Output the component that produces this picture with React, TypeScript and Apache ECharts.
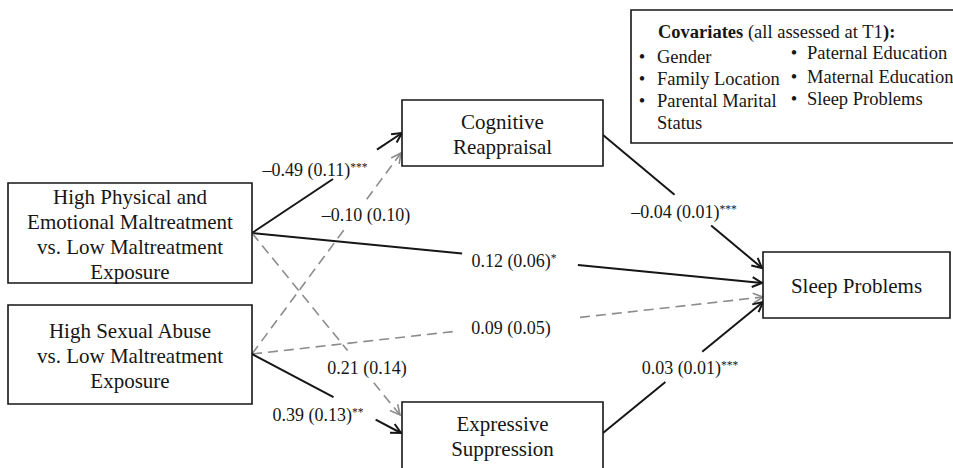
import React, { useEffect, useRef } from "react";
import * as echarts from "echarts";

// ---- Data ----
const nodeLabels = [
  "High Physical and\nEmotional Maltreatment\nvs. Low Maltreatment\nExposure",
  "High Sexual Abuse\nvs. Low Maltreatment\nExposure",
  "Cognitive\nReappraisal",
  "Expressive\nSuppression",
  "Sleep Problems",
];
// paths: HPE→CR, HPE→SP, HSA→CR, HPE→ES, HSA→SP, HSA→ES, CR→SP, ES→SP
const pathFrom = [0, 0, 1, 0, 1, 1, 2, 3];
const pathTo = [2, 4, 2, 3, 4, 3, 4, 4];
const pathEstimates = [-0.49, 0.12, -0.1, 0.21, 0.09, 0.39, -0.04, 0.03];
const pathSE = [0.11, 0.06, 0.1, 0.14, 0.05, 0.13, 0.01, 0.01];
const pathStars = ["***", "*", "", "", "", "**", "***", "***"];
const covariatesLeft = ["Gender", "Family Location", "Parental Marital\nStatus"];
const covariatesRight = ["Paternal Education", "Maternal Education", "Sleep Problems"];

// ---- Layout (positions only) ----
const nodeBoxes = [
  [8, 183, 252, 283],
  [8, 305, 252, 404],
  [402, 100, 603, 166],
  [402, 402, 603, 469],
  [763, 252, 950, 318],
];
const edgeStart = [
  [252, 233], [252, 233], [252, 354], [252, 233], [252, 354], [252, 354], [603, 135], [603, 433],
];
const edgeEnd = [
  [402, 133], [762, 283], [401, 153], [400, 415], [763, 297], [401, 433], [762, 268], [763, 302],
];
const edgeGap = [
  [0.54, 0.833], [0.412, 0.639], [0.64, 0.77], [0.646, 0.823], [0.401, 0.642], [0.547, 0.83], [0.45, 0.68], [0.39, 0.62],
];
const labelPos = [
  [315, 170], [514, 261], [366, 215], [367, 368], [511, 328], [318, 415], [684, 212], [690, 368],
];
const covBox = [631, 10, 965, 143];
const covTitlePos = [658, 32];
const covLeftPos = [[642, 657, 57], [642, 657, 79], [642, 657, 101]];
const covRightPos = [[794, 807, 53], [794, 807, 77], [794, 807, 99]];

const FONT = "'Liberation Serif', 'Times New Roman', serif";
const INK = "#161616";
const GREY = "#8c8c8c";
const COV_FS = 18.5;

function fmt(v: number) {
  const s = Math.abs(v).toFixed(2);
  return v < 0 ? "\u2013" + s : s;
}

export default function App() {
  const ref = useRef<HTMLDivElement>(null);
  useEffect(() => {
    document.body.style.margin = "0";
    const chart = echarts.init(ref.current!, null, { renderer: "svg" });

    const boxSeries = {
      type: "custom",
      clip: false,
      z: 3,
      data: nodeLabels.map((_, i) => [i]),
      renderItem: (params: any, api: any) => {
        const i = params.dataIndex;
        const b = nodeBoxes[i];
        const p0 = api.coord([b[0], b[1]]);
        const p1 = api.coord([b[2], b[3]]);
        return {
          type: "group",
          children: [
            {
              type: "rect",
              shape: { x: p0[0], y: p0[1], width: p1[0] - p0[0], height: p1[1] - p0[1] },
              style: { fill: "#fff", stroke: INK, lineWidth: 1.6 },
            },
            {
              type: "text",
              style: {
                text: nodeLabels[i],
                x: (p0[0] + p1[0]) / 2,
                y: (p0[1] + p1[1]) / 2 + 1,
                align: "center",
                verticalAlign: "middle",
                fontFamily: FONT,
                fontSize: 21,
                lineHeight: 25,
                fill: INK,
              },
            },
          ],
        };
      },
    };

    const edgeSeries = {
      type: "custom",
      clip: false,
      z: 2,
      data: pathFrom.map((_, i) => [i]),
      renderItem: (params: any, api: any) => {
        const i = params.dataIndex;
        const a = api.coord(edgeStart[i]);
        const b = api.coord(edgeEnd[i]);
        const sig = pathStars[i] !== "";
        const color = sig ? INK : GREY;
        const lw = sig ? 2 : 1.6;
        const g = edgeGap[i];
        const pt = (t: number) => [a[0] + (b[0] - a[0]) * t, a[1] + (b[1] - a[1]) * t];
        const m0 = pt(g[0]);
        const m1 = pt(g[1]);
        const ang = Math.atan2(b[1] - a[1], b[0] - a[0]);
        const L = 11;
        const da = 0.47;
        const h1 = [b[0] - L * Math.cos(ang - da), b[1] - L * Math.sin(ang - da)];
        const h2 = [b[0] - L * Math.cos(ang + da), b[1] - L * Math.sin(ang + da)];
        const ls: any = { stroke: color, lineWidth: lw, fill: "none" };
        if (!sig) ls.lineDash = [10, 6];
        return {
          type: "group",
          children: [
            { type: "line", shape: { x1: a[0], y1: a[1], x2: m0[0], y2: m0[1] }, style: ls },
            { type: "line", shape: { x1: m1[0], y1: m1[1], x2: b[0], y2: b[1] }, style: ls },
            {
              type: "polyline",
              shape: { points: [h1, b, h2] },
              style: { stroke: color, lineWidth: lw, fill: "none" },
            },
          ],
        };
      },
    };

    const labelSeries = {
      type: "custom",
      clip: false,
      z: 4,
      data: pathFrom.map((_, i) => [i]),
      renderItem: (params: any, api: any) => {
        const i = params.dataIndex;
        const p = api.coord(labelPos[i]);
        const txt = `${fmt(pathEstimates[i])} (${pathSE[i].toFixed(2)})` + (pathStars[i] ? `{s|${pathStars[i]}}` : "");
        return {
          type: "text",
          style: {
            text: txt,
            x: p[0],
            y: p[1],
            align: "center",
            verticalAlign: "middle",
            fontFamily: FONT,
            fontSize: 18,
            fill: INK,
            rich: {
              s: { fontFamily: FONT, fontSize: 11.5, fill: INK, verticalAlign: "top", lineHeight: 11 },
            },
          },
        };
      },
    };

    const covSeries = {
      type: "custom",
      clip: false,
      z: 3,
      data: [[0]],
      renderItem: (params: any, api: any) => {
        const p0 = api.coord([covBox[0], covBox[1]]);
        const p1 = api.coord([covBox[2], covBox[3]]);
        const t = api.coord(covTitlePos);
        const children: any[] = [
          {
            type: "rect",
            shape: { x: p0[0], y: p0[1], width: p1[0] - p0[0], height: p1[1] - p0[1] },
            style: { fill: "#fff", stroke: INK, lineWidth: 1.6 },
          },
          {
            type: "text",
            style: {
              text: "{b|Covariates} (all assessed at T1{b|):}",
              x: t[0],
              y: t[1],
              align: "left",
              verticalAlign: "middle",
              fontFamily: FONT,
              fontSize: COV_FS,
              fill: INK,
              rich: { b: { fontFamily: FONT, fontSize: COV_FS, fontWeight: "bold", fill: INK } },
            },
          },
        ];
        const addList = (items: string[], pos: number[][]) => {
          items.forEach((s, k) => {
            const bp = api.coord([pos[k][0], pos[k][2]]);
            const tp = api.coord([pos[k][1], pos[k][2]]);
            children.push({
              type: "text",
              style: {
                text: "\u2022", x: bp[0], y: bp[1], align: "center", verticalAlign: "middle",
                fontFamily: FONT, fontSize: COV_FS, fill: INK,
              },
            });
            children.push({
              type: "text",
              style: {
                text: s, x: tp[0], y: tp[1] - 11, align: "left", verticalAlign: "top",
                fontFamily: FONT, fontSize: COV_FS, lineHeight: 22, fill: INK,
              },
            });
          });
        };
        addList(covariatesLeft, covLeftPos);
        addList(covariatesRight, covRightPos);
        return { type: "group", children };
      },
    };

    chart.setOption({
      animation: false,
      backgroundColor: "#ffffff",
      grid: { left: 0, right: 0, top: 0, bottom: 0 },
      xAxis: { type: "value", min: 0, max: 953, show: false },
      yAxis: { type: "value", min: 0, max: 468, inverse: true, show: false },
      series: [edgeSeries, boxSeries, labelSeries, covSeries],
    });
    return () => chart.dispose();
  }, []);
  return <div ref={ref} style={{ width: 953, height: 468 }} />;
}
